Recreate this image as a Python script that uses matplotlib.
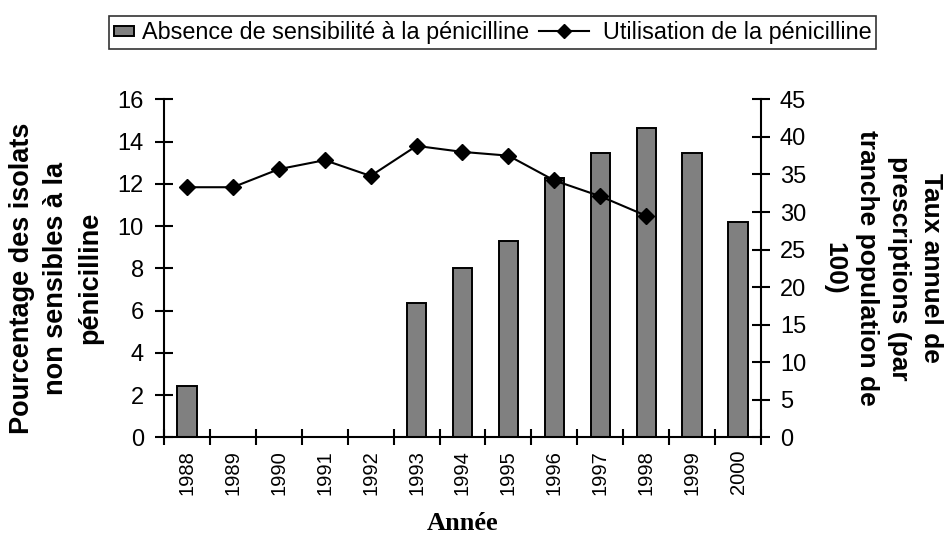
import matplotlib
matplotlib.use("Agg")
import matplotlib.pyplot as plt
import numpy as np
from matplotlib.legend_handler import HandlerPatch, HandlerLine2D
from matplotlib.patches import Rectangle
from matplotlib.lines import Line2D

years = ["1988", "1989", "1990", "1991", "1992", "1993", "1994", "1995",
         "1996", "1997", "1998", "1999", "2000"]
resistance = [2.45, 0, 0, 0, 0, 6.35, 8.0, 9.3, 12.3, 13.45, 14.65, 13.45, 10.2]
usage_years = years[:11]
usage = [33.3, 33.3, 35.7, 36.9, 34.8, 38.8, 38.0, 37.5, 34.2, 32.1, 29.5]
labels = ["Absence de sensibilité à la pénicilline", "Utilisation de la pénicilline"]

plt.rcParams['font.family'] = ['Liberation Sans', 'DejaVu Sans']

fig = plt.figure(figsize=(9.49, 5.33), dpi=100)
ax = fig.add_axes([0.1728, 0.1792, 0.6291, 0.6345])
ax2 = ax.twinx()
ax.set_zorder(1)
ax2.set_zorder(2)
ax2.patch.set_visible(False)

x = np.arange(len(years))
bars = ax.bar(x, resistance, width=0.42, color="#808080", edgecolor="black",
              linewidth=1.4)
ux = np.arange(len(usage_years))
line, = ax2.plot(ux, usage, color="black", linewidth=1.5, marker="D",
                 markersize=8.5)

ax.set_xlim(-0.5, len(years) - 0.5)
ax.set_ylim(0, 16)
ax2.set_ylim(0, 45)
ax.set_yticks(np.arange(0, 17, 2))
ax2.set_yticks(np.arange(0, 46, 5))

ax.set_xticks(x)
ax.set_xticklabels(years, rotation=90, fontsize=14.5)
ax.set_xticks(np.arange(-0.5, len(years), 1), minor=True)
ax.tick_params(axis='x', which='major', length=0, pad=9)
ax.tick_params(axis='x', which='minor', direction='inout', length=11, width=1.5)
ax.tick_params(axis='y', direction='inout', length=13, width=1.5, labelsize=17, pad=8)
ax2.tick_params(axis='y', direction='inout', length=13, width=1.5, labelsize=17, pad=7)

for a in (ax, ax2):
    a.spines['top'].set_visible(False)
    for s in ('left', 'right', 'bottom'):
        a.spines[s].set_linewidth(1.5)
ax.spines['right'].set_visible(False)
ax2.spines['left'].set_visible(False)
ax2.spines['bottom'].set_visible(False)

fig.text(0.059, 0.478, "Pourcentage des isolats\nnon sensibles à la\npénicilline",
         rotation=90, ha='center', va='center', fontsize=19.5, fontweight='bold',
         multialignment='center', linespacing=1.42)
fig.text(0.930, 0.497, "Taux annuel de\nprescriptions (par\ntranche population de\n100)",
         rotation=270, ha='center', va='center', fontsize=19, fontweight='bold',
         multialignment='center', linespacing=1.42)
fig.text(0.487, 0.006, "Année", ha='center', va='baseline', fontsize=19,
         fontweight='bold', family=['Liberation Serif', 'DejaVu Serif'])


def bar_patch(legend, orig_handle, xdescent, ydescent, width, height, fontsize):
    h = 0.42 * fontsize
    return Rectangle((-xdescent, -ydescent + (height - h) / 2), width, h)


class LongLineHandler(HandlerLine2D):
    def create_artists(self, legend, orig_handle, xdescent, ydescent,
                       width, height, fontsize, trans):
        extra = 1.48 * fontsize
        x0 = -xdescent - extra
        x1 = -xdescent + width - 0.21 * fontsize
        y = (height - ydescent) / 2
        ln = Line2D([x0, x1], [y, y])
        self.update_prop(ln, orig_handle, legend)
        ln.set_marker('None')
        mk = Line2D([(x0 + x1) / 2], [y])
        self.update_prop(mk, orig_handle, legend)
        mk.set_linestyle('None')
        mk.set_markersize(7)
        ln.set_transform(trans)
        mk.set_transform(trans)
        return [ln, mk]


bar_handle = bars.patches[0]
leg = fig.legend(handles=[bar_handle, line], labels=labels, loc='center',
                 bbox_to_anchor=(0.519, 0.939),
                 ncol=2, fontsize=16.8, frameon=True, fancybox=False,
                 edgecolor='black', handlelength=0.85, handletextpad=0.38,
                 columnspacing=1.9, borderpad=0.2, borderaxespad=0,
                 handler_map={bar_handle: HandlerPatch(patch_func=bar_patch),
                              line: LongLineHandler()})
leg.get_frame().set_linewidth(1.2)

fig.savefig("out.png", dpi=100)
